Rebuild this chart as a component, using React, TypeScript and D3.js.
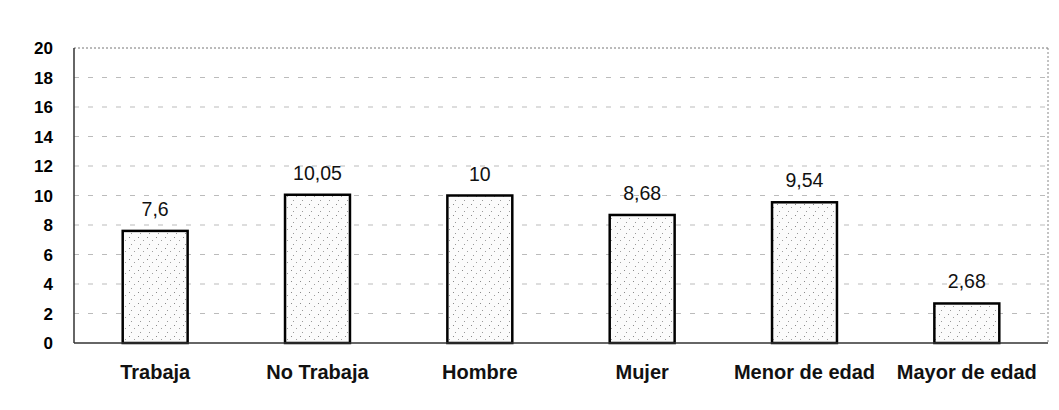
import React from 'react';
import * as d3 from 'd3';

const categories = ['Trabaja', 'No Trabaja', 'Hombre', 'Mujer', 'Menor de edad', 'Mayor de edad'];
const values = [7.6, 10.05, 10, 8.68, 9.54, 2.68];
const valueLabels = ['7,6', '10,05', '10', '8,68', '9,54', '2,68'];
const yTicks = [0, 2, 4, 6, 8, 10, 12, 14, 16, 18, 20];

const W = 1059;
const H = 410;
const margin = { top: 48, right: 11, bottom: 67, left: 74 };

export default function App() {
  const innerW = W - margin.left - margin.right;
  const innerH = H - margin.top - margin.bottom;

  const x = d3.scaleBand<string>().domain(categories).range([0, innerW]).paddingInner(0.6).paddingOuter(0.3);
  const y = d3.scaleLinear().domain([0, 20]).range([innerH, 0]);

  return (
    <div style={{ position: 'fixed', left: 0, top: 0 }}>
      <svg width={W} height={H} style={{ display: 'block', background: '#fff', fontFamily: 'Liberation Sans, Arial, sans-serif' }}>
        <defs>
          <pattern id="stipple" width="9" height="11" patternUnits="userSpaceOnUse">
            <rect width="9" height="11" fill="#fbfbfb" />
            <rect x="1" y="2" width="1" height="1" fill="#8a8a8a" />
            <rect x="6" y="5" width="1" height="1" fill="#a0a0a0" />
            <rect x="3" y="9" width="1" height="1" fill="#999" />
          </pattern>
        </defs>
        <g transform={`translate(${margin.left},${margin.top})`}>
          {/* grid */}
          {yTicks.filter(t => t > 0).map(t => (
            <line key={t} x1={0} x2={innerW} y1={y(t)} y2={y(t)}
              stroke={t === 20 ? '#777' : '#bbb'} strokeWidth={1}
              strokeDasharray={t === 20 ? '2,2' : '5,9'} />
          ))}
          {/* right border */}
          <line x1={innerW} x2={innerW} y1={0} y2={innerH} stroke="#888" strokeDasharray="2,2" />
          {/* bars */}
          {categories.map((c, i) => (
            <g key={c}>
              <rect x={x(c)} y={y(values[i])} width={x.bandwidth()} height={innerH - y(values[i])}
                fill="url(#stipple)" stroke="#000" strokeWidth={2.5} />
              <text x={(x(c) ?? 0) + x.bandwidth() / 2} y={y(values[i]) - 15}
                textAnchor="middle" fontSize={19.5} fill="#111">{valueLabels[i]}</text>
              <text x={(x(c) ?? 0) + x.bandwidth() / 2} y={innerH + 36}
                textAnchor="middle" fontSize={20} fontWeight="bold" fill="#111">{c}</text>
            </g>
          ))}
          {/* axes */}
          <line x1={0} x2={innerW} y1={innerH} y2={innerH} stroke="#333" strokeWidth={1.5} />
          <line x1={0} x2={0} y1={0} y2={innerH} stroke="#333" strokeWidth={1.5} />
          {yTicks.map(t => (
            <text key={t} x={-21} y={y(t)} dy="0.36em" textAnchor="end"
              fontSize={17} fontWeight="bold" fill="#000">{t}</text>
          ))}
        </g>
      </svg>
    </div>
  );
}
